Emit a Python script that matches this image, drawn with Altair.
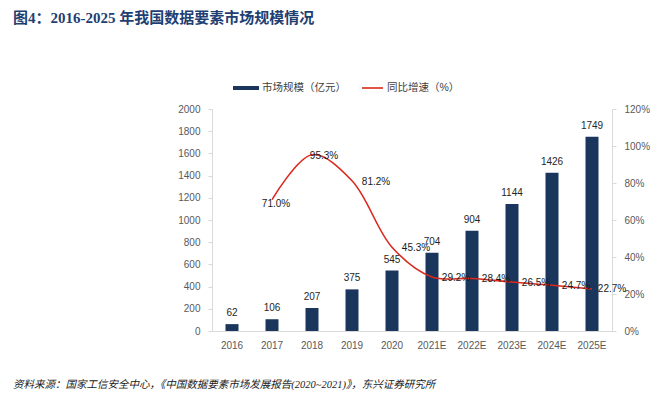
import altair as alt
import pandas as pd

years = ["2016", "2017", "2018", "2019", "2020", "2021E", "2022E", "2023E", "2024E", "2025E"]
market = [62, 106, 207, 375, 545, 704, 904, 1144, 1426, 1749]
growth = [None, 71.0, 95.3, 81.2, 45.3, 29.2, 28.4, 26.5, 24.7, 22.7]

title_text = "图4：2016-2025 年我国数据要素市场规模情况"
source_text = "资料来源：国家工信安全中心，《中国数据要素市场发展报告(2020~2021)》，东兴证券研究所"
legend_bar = "市场规模（亿元）"
legend_line = "同比增速（%）"

df = pd.DataFrame({"year": years, "market": market,
                   "growth": [g / 100 if g is not None else None for g in growth]})

BAR = "#1B365D"
RED = "#D9281E"
AX = "#595959"
FONT = "Liberation Sans, Noto Sans CJK SC"

x = alt.X("year:N", sort=years, title=None,
          scale=alt.Scale(paddingInner=0, paddingOuter=0),
          axis=alt.Axis(labelAngle=0, labelColor=AX, labelFontSize=10, labelFont=FONT,
                        domainColor="#D9D9D9", ticks=False, labelPadding=9))

yl_scale = alt.Scale(domain=[0, 2000])
yl = alt.Y("market:Q", title=None, scale=yl_scale,
           axis=alt.Axis(values=list(range(0, 2001, 200)), format="d", labelOverlap=False,
                         labelColor=AX, labelFontSize=10,
                         labelFont=FONT, grid=False, domainColor="#D9D9D9", tickColor="#D9D9D9",
                         tickSize=4, labelPadding=8))

base = alt.Chart(df)
bars = base.mark_bar(color=BAR, size=13).encode(x=x, y=yl)
bar_lbl = base.mark_text(dy=-11, fontSize=10, color="#262626", font=FONT).encode(
    x=x, y=yl, text=alt.Text("market:Q"))

yr_scale = alt.Scale(domain=[0, 1.2])
yr = alt.Y("growth:Q", title=None, scale=yr_scale,
           axis=alt.Axis(orient="right", values=[0, 0.2, 0.4, 0.6, 0.8, 1.0, 1.2], format=".0%",
                         labelOverlap=False,
                         labelColor=AX, labelFontSize=10, labelFont=FONT, grid=False,
                         domainColor="#D9D9D9", tickColor="#D9D9D9", tickSize=4, labelPadding=8))

gbase = base.transform_filter("isValid(datum.growth)")
line = gbase.mark_line(color=RED, strokeWidth=1.6, interpolate="catmull-rom").encode(x=x, y=yr)

lbl_enc = dict(x=x, y=yr, text="lbl:N")
gl = gbase.transform_calculate(lbl="format(datum.growth*100, '.1f') + '%'")
g1 = gl.transform_filter("datum.year == '2017'").mark_text(
    dx=4, dy=4, fontSize=10, color="#1a1a1a", font=FONT).encode(**lbl_enc)
g2 = gl.transform_filter("datum.year == '2018'").mark_text(
    dx=12, dy=1, fontSize=10, color="#1a1a1a", font=FONT).encode(**lbl_enc)
g3 = gl.transform_filter("datum.year != '2017' && datum.year != '2018' && datum.year != '2025E'").mark_text(
    dx=24, dy=1, fontSize=10, color="#1a1a1a", font=FONT).encode(**lbl_enc)
g4 = gl.transform_filter("datum.year == '2025E'").mark_text(
    dx=20, dy=0, fontSize=10, color="#1a1a1a", font=FONT).encode(**lbl_enc)

one = alt.Data(values=[{"a": 1}])
title = alt.Chart(one).mark_text(align="left", baseline="middle", fontSize=15, fontWeight="bold",
                                 color="#1F3F73", font="Liberation Serif, Noto Sans CJK SC").encode(
    x=alt.value(-199), y=alt.value(-91), text=alt.value(title_text))
source = alt.Chart(one).mark_text(align="left", baseline="middle", fontSize=10.5, fontStyle="italic",
                                  color="#1a1a1a", font="Liberation Serif, Noto Sans CJK SC").encode(
    x=alt.value(-199), y=alt.value(276), text=alt.value(source_text))
leg_rect = alt.Chart(one).mark_rule(color=BAR, strokeWidth=4).encode(
    x=alt.value(21), x2=alt.value(47), y=alt.value(-21))
leg_t1 = alt.Chart(one).mark_text(align="left", baseline="middle", fontSize=10.5, color="#404040",
                                  font=FONT).encode(x=alt.value(50), y=alt.value(-21), text=alt.value(legend_bar))
leg_line = alt.Chart(one).mark_rule(color=RED, strokeWidth=1.6).encode(
    x=alt.value(150), x2=alt.value(171), y=alt.value(-21))
leg_t2 = alt.Chart(one).mark_text(align="left", baseline="middle", fontSize=10.5, color="#404040",
                                  font=FONT).encode(x=alt.value(175), y=alt.value(-21), text=alt.value(legend_line))

left = alt.layer(bars, bar_lbl)
right = alt.layer(line, g1, g2, g3, g4)

chart = alt.layer(left, right, title, source, leg_rect, leg_t1, leg_line, leg_t2).resolve_scale(
    y="independent").properties(
    width=400, height=222,
    background="white",
    autosize=alt.AutoSizeParams(type="none"),
    padding={"left": 204, "top": 101, "right": 38, "bottom": 70},
).configure_view(stroke=None)

chart.save("out.html", embed_options={"renderer": "svg", "actions": False})
